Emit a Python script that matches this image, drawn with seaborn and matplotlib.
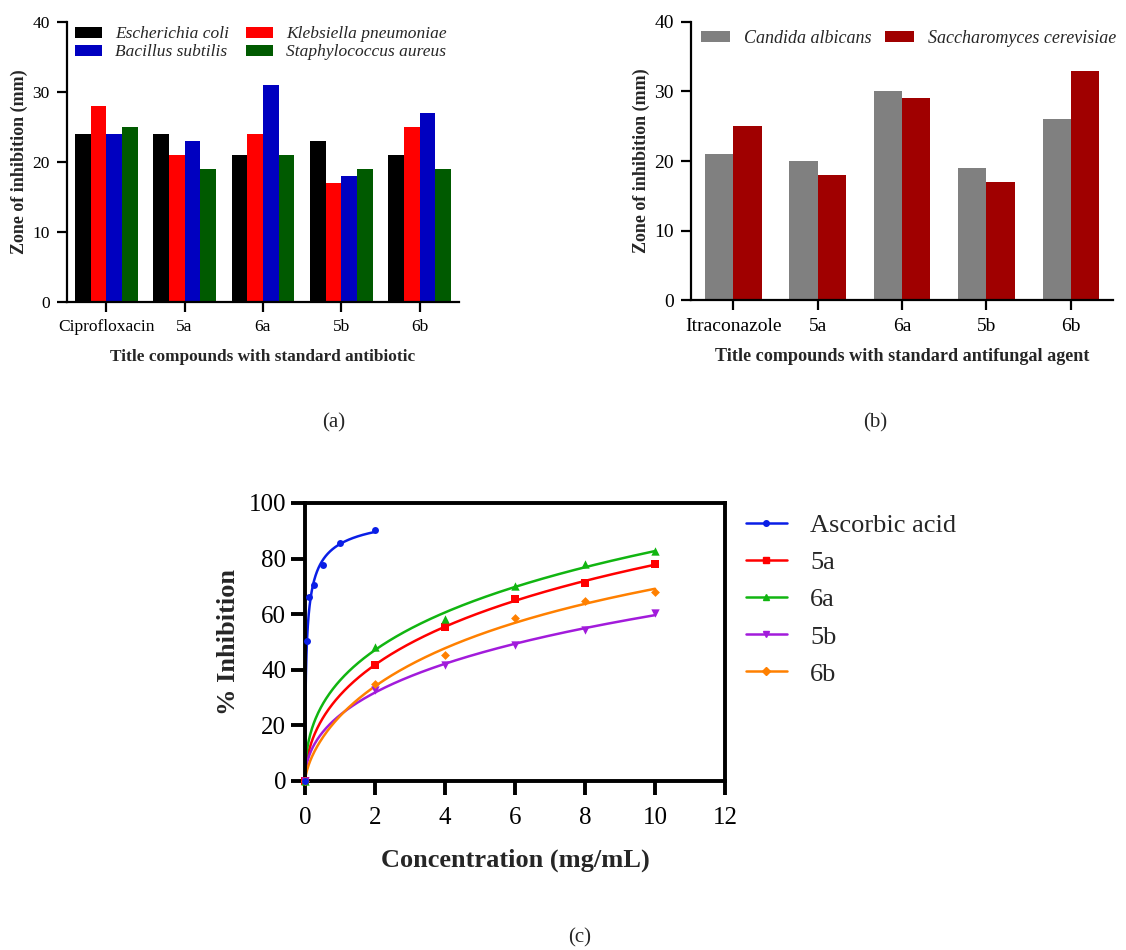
import numpy as np
import pandas as pd
import seaborn as sns
import matplotlib.pyplot as plt
from matplotlib.lines import Line2D

# Data
compounds_a = ['Ciprofloxacin', '5a', '6a', '5b', '6b']
e_coli = [24, 24, 21, 23, 21]
k_pneumoniae = [28, 21, 24, 17, 25]
b_subtilis = [24, 23, 31, 18, 27]
s_aureus = [25, 19, 21, 19, 19]

compounds_b = ['Itraconazole', '5a', '6a', '5b', '6b']
c_albicans = [21, 20, 30, 19, 26]
s_cerevisiae = [25, 18, 29, 17, 33]

conc_ascorbic = [0, 0.0625, 0.125, 0.25, 0.5, 1, 2]
inh_ascorbic = [0, 50.2, 66.0, 70.5, 77.7, 85.6, 90.2]
conc = [0, 2, 4, 6, 8, 10]
inh_5a = [0, 41.8, 55.2, 65.6, 71.1, 78.1]
inh_6a = [0, 48.2, 58.2, 70.1, 77.9, 82.6]
inh_5b = [0, 32.6, 41.7, 48.9, 54.4, 60.4]
inh_6b = [0, 34.8, 45.3, 58.6, 64.7, 68.1]

sns.set_style('ticks')
plt.rcParams['font.family'] = ['Liberation Serif', 'DejaVu Serif']

fig = plt.figure(figsize=(11.26, 9.5), dpi=100)


def style_bar_axis(ax, fs):
    sns.despine(ax=ax)
    for s in ['left', 'bottom']:
        ax.spines[s].set_linewidth(1.6)
        ax.spines[s].set_color('black')
    ax.tick_params(direction='out', length=7.5, width=1.6, colors='black', labelsize=fs, pad=5)
    ax.set_xlim(-0.5, 4.5)
    ax.set_ylim(0, 40)
    ax.set_yticks([0, 10, 20, 30, 40])
    ax.set_ylabel('Zone of inhibition (mm)', fontweight='bold', fontsize=13, labelpad=3)


# (a) antibacterial
ax1 = fig.add_axes([0.0595, 0.682, 0.348, 0.295])
strains_a = ['Escherichia coli', 'Klebsiella pneumoniae', 'Bacillus subtilis', 'Staphylococcus aureus']
df_a = pd.DataFrame({
    'compound': compounds_a * 4,
    'strain': np.repeat(strains_a, 5),
    'zone': e_coli + k_pneumoniae + b_subtilis + s_aureus,
})
sns.barplot(data=df_a, x='compound', y='zone', hue='strain', hue_order=strains_a,
            palette=['#000000', '#ff0000', '#0000c0', '#005a00'], saturation=1,
            width=0.8, gap=0, linewidth=0, errorbar=None, ax=ax1)
style_bar_axis(ax1, 12.5)
ax1.set_xlabel('Title compounds with standard antibiotic', fontweight='bold', fontsize=12.4, labelpad=10)
h, l = ax1.get_legend_handles_labels()
order = [0, 2, 1, 3]
ax1.legend([h[i] for i in order], [l[i] for i in order], ncol=2, loc='upper left',
           bbox_to_anchor=(0.02, 0.984), borderpad=0, borderaxespad=0, frameon=False,
           prop={'style': 'italic', 'size': 12.5},
           handlelength=1.55, handleheight=0.6, columnspacing=1.0, labelspacing=0.12,
           handletextpad=0.75)

# (b) antifungal
ax2 = fig.add_axes([0.6137, 0.684, 0.3748, 0.293])
strains_b = ['Candida albicans', 'Saccharomyces cerevisiae']
df_b = pd.DataFrame({
    'compound': compounds_b * 2,
    'strain': np.repeat(strains_b, 5),
    'zone': c_albicans + s_cerevisiae,
})
sns.barplot(data=df_b, x='compound', y='zone', hue='strain', hue_order=strains_b,
            palette=['#808080', '#a00000'], saturation=1, width=0.67, gap=0,
            linewidth=0, errorbar=None, ax=ax2)
style_bar_axis(ax2, 14)
ax2.set_xlabel('Title compounds with standard antifungal agent', fontweight='bold', fontsize=13.1, labelpad=10)
ax2.legend(ncol=2, loc='upper left', bbox_to_anchor=(0.024, 0.972), borderpad=0, borderaxespad=0,
           frameon=False, prop={'style': 'italic', 'size': 13}, handlelength=1.6,
           handleheight=0.6, columnspacing=0.7, handletextpad=0.8)

# (c) antioxidant
ax3 = fig.add_axes([0.2709, 0.178, 0.373, 0.2926])


def hyperbola_fit(x, y):
    # least squares fit of y = vmax * x^h / (k^h + x^h)
    x = np.asarray(x, float)
    y = np.asarray(y, float)
    best = None
    for k in np.logspace(-3, 2, 300):
        for hh in np.linspace(0.3, 1.5, 61):
            f = x ** hh / (k ** hh + x ** hh)
            vmax = (f @ y) / (f @ f)
            err = ((vmax * f - y) ** 2).sum()
            if best is None or err < best[0]:
                best = (err, vmax, k, hh)
    _, vmax, k, hh = best
    xs = np.linspace(0, x.max(), 400)
    return xs, vmax * xs ** hh / (k ** hh + xs ** hh)


series_c = [
    ('Ascorbic acid', conc_ascorbic, inh_ascorbic, '#0a1ee6', 'o', 5),
    ('5a', conc, inh_5a, '#ff0000', 's', 6),
    ('6a', conc, inh_6a, '#11b511', '^', 6),
    ('5b', conc, inh_5b, '#a21bdb', 'v', 6),
    ('6b', conc, inh_6b, '#ff8000', 'D', 4.5),
]
handles = []
for i, (name, xv, yv, col, mk, ms) in enumerate(series_c):
    xs, ys = hyperbola_fit(xv, yv)
    sns.lineplot(x=xs, y=ys, color=col, linewidth=1.8, ax=ax3, zorder=2)
    sns.scatterplot(x=xv, y=yv, color=col, marker=mk, s=ms ** 2, linewidth=0, ax=ax3,
                    zorder=4 if i == 0 else 3, clip_on=False)
    handles.append(Line2D([], [], color=col, marker=mk, markersize=ms * 0.8, linewidth=1.8))

ax3.set_xlim(0, 12)
ax3.set_ylim(0, 100)
ax3.set_xticks(range(0, 13, 2))
ax3.set_yticks(range(0, 101, 20))
for s in ax3.spines.values():
    s.set_linewidth(2.8)
    s.set_color('black')
ax3.tick_params(direction='out', length=10, width=2.8, colors='black', labelsize=18)
ax3.tick_params(axis='x', pad=9)
ax3.tick_params(axis='y', pad=3.5)
ax3.set_xlabel('Concentration (mg/mL)', fontweight='bold', fontsize=19, labelpad=14)
ax3.set_ylabel('% Inhibition', fontweight='bold', fontsize=19, labelpad=6)
ax3.legend(handles, [s[0] for s in series_c], loc='upper left', bbox_to_anchor=(1.024, 1.0),
           borderaxespad=0, frameon=False, fontsize=19, handlelength=1.55, labelspacing=0.52,
           handletextpad=0.9)

# panel captions
fig.text(0.296, 0.555, '(a)', ha='center', va='center', fontsize=15)
fig.text(0.777, 0.555, '(b)', ha='center', va='center', fontsize=15)
fig.text(0.515, 0.013, '(c)', ha='center', va='center', fontsize=15)

plt.savefig('out.png', dpi=100)
